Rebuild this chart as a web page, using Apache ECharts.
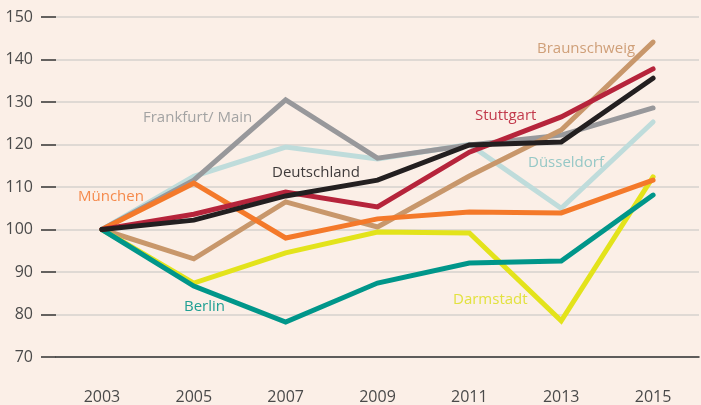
<!DOCTYPE html>
<html>
<head>
<meta charset="utf-8">
<script src="https://cdn.jsdelivr.net/npm/echarts@6/dist/echarts.min.js"></script>
<style>
  html, body { margin: 0; padding: 0; background: #fbefe7; }
  #chart { width: 701px; height: 405px; }
</style>
</head>
<body>
<div id="chart"></div>
<script>
// Jahre (x-Achse)
const years = ['2003', '2005', '2007', '2009', '2011', '2013', '2015'];

// Indexwerte, 2003 = 100
const duesseldorf  = [100, 112.5, 119.4, 116.6, 120.0, 105.0, 125.3];
const frankfurt    = [100, 111.6, 130.5, 116.8, 119.9, 122.2, 128.6];
const braunschweig = [100, 93.1, 106.5, 100.6, 112.6, 123.4, 144.1];
const darmstadt    = [100, 87.4, 94.5, 99.4, 99.2, 78.5, 112.4];
const muenchen     = [100, 110.9, 98.0, 102.5, 104.1, 103.9, 111.6];
const berlin       = [100, 86.7, 78.2, 87.4, 92.1, 92.6, 108.1];
const stuttgart    = [100, 103.6, 108.8, 105.3, 118.2, 126.5, 137.8];
const deutschland  = [100, 102.2, 107.9, 111.6, 119.9, 120.6, 135.6];

const chartInstance = echarts.init(document.getElementById('chart'));

const font = '"Open Sans", "Noto Sans", sans-serif';

// eine Linie pro Stadt
const line = (name, data, color) => ({
  name: name,
  type: 'line',
  data: data,
  symbol: 'none',
  silent: true,
  lineStyle: { color: color, width: 5, cap: 'round', join: 'miter' }
});

// Beschriftungen an den Linien
const label = (text, x, y, color) => ({
  type: 'text',
  x: x,
  y: y,
  style: {
    text: text,
    fill: color,
    font: '15px ' + font,
    textAlign: 'left',
    textVerticalAlign: 'middle'
  }
});

const option = {
  backgroundColor: '#fbefe7',
  animation: false,
  grid: { left: 56, right: 2, top: 17, bottom: 48 },
  xAxis: {
    type: 'category',
    data: years,
    boundaryGap: true,
    axisLine: { lineStyle: { color: '#333', width: 1.5 } },
    axisTick: { alignWithLabel: true, length: 15, lineStyle: { color: '#333', width: 1.5 } },
    axisLabel: { color: '#4a4a4a', fontSize: 16, fontFamily: font, margin: 32 },
    splitLine: { show: false }
  },
  yAxis: {
    type: 'value',
    min: 70,
    max: 150,
    interval: 10,
    axisLine: { show: false },
    axisTick: { show: true, length: 15, lineStyle: { color: '#333', width: 1.5 } },
    axisLabel: { color: '#4a4a4a', fontSize: 16, fontFamily: font, margin: 23 },
    splitLine: { lineStyle: { color: '#d6d2ce', width: 1.5 } }
  },
  series: [
    line('Düsseldorf', duesseldorf, '#bfdcdb'),
    line('Frankfurt/ Main', frankfurt, '#98989b'),
    line('Braunschweig', braunschweig, '#c8976b'),
    line('Darmstadt', darmstadt, '#e3e31b'),
    line('München', muenchen, '#f4792a'),
    line('Berlin', berlin, '#00968a'),
    line('Stuttgart', stuttgart, '#b6243b'),
    line('Deutschland', deutschland, '#231f20')
  ],
  graphic: [
    label('Frankfurt/ Main', 143, 118, '#a3a3a3'),
    label('Deutschland', 272, 173, '#3f3b3b'),
    label('Stuttgart', 475, 116, '#c23a4c'),
    label('Braunschweig', 537, 49, '#cf9f78'),
    label('Düsseldorf', 528, 163, '#96c8c6'),
    label('München', 78, 197, '#f58a4c'),
    label('Berlin', 184, 307, '#1f9f93'),
    label('Darmstadt', 453, 300, '#e2e23f')
  ]
};

chartInstance.setOption(option);
</script>
</body>
</html>
